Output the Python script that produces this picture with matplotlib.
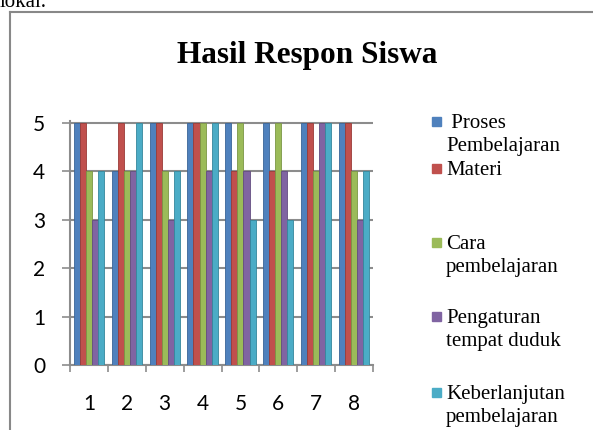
import matplotlib.pyplot as plt
import numpy as np
from matplotlib.lines import Line2D
from matplotlib.patches import Rectangle

# data
groups = ['1', '2', '3', '4', '5', '6', '7', '8']
series_names = [' Proses\nPembelajaran', 'Materi', 'Cara\npembelajaran',
                'Pengaturan\ntempat duduk', 'Keberlanjutan\npembelajaran']
proses = [5, 4, 5, 5, 5, 5, 5, 5]
materi = [5, 5, 5, 5, 4, 4, 5, 5]
cara = [4, 4, 4, 5, 5, 5, 4, 4]
pengaturan = [3, 4, 3, 4, 4, 4, 5, 3]
keberlanjutan = [4, 5, 4, 5, 3, 3, 5, 4]
y_ticks = [0, 1, 2, 3, 4, 5]

colors = ['#4F81BD', '#C0504D', '#9BBB59', '#8064A2', '#4BACC6']
edges = ['#3A6597', '#9A3B38', '#7A9645', '#634D80', '#35879C']
grid_col = '#8C8C8C'

fig = plt.figure(figsize=(5.93, 4.30), dpi=100)
W, H = 593, 430

def fx(px):
    return px / W

def fy(py):
    return 1 - py / H

ax = fig.add_axes([fx(70), fy(365), fx(373) - fx(70), fy(121) - fy(365)])

x = np.arange(1, len(groups) + 1)
width = 0.16
all_series = [proses, materi, cara, pengaturan, keberlanjutan]
for i, vals in enumerate(all_series):
    ax.bar(x + (i - 2) * width, vals, width, color=colors[i],
           edgecolor=edges[i], linewidth=0.6, zorder=3)

ax.set_xlim(0.5, len(groups) + 0.5)
ax.set_ylim(0, 5.04)
ax.set_yticks(y_ticks)
ax.set_yticklabels([str(t) for t in y_ticks], fontsize=15, family='Lato')
ax.set_xticks(np.arange(0.5, len(groups) + 1, 1))
ax.set_xticklabels([])
ax.set_xticks(x, minor=True)
ax.set_xticklabels(groups, minor=True, fontsize=15, family='Lato')
ax.tick_params(axis='x', which='major', length=5, color=grid_col, width=1.2)
ax.tick_params(axis='x', which='minor', length=0, pad=21)
ax.tick_params(axis='y', length=6, color=grid_col, width=1.2, pad=12)
ax.grid(axis='y', color=grid_col, linewidth=1.5, zorder=0)
for s in ['top', 'right']:
    ax.spines[s].set_visible(False)
for s in ['left', 'bottom']:
    ax.spines[s].set_color(grid_col)
    ax.spines[s].set_linewidth(1.5)

# title
fig.text(fx(307), fy(55), 'Hasil Respon Siswa', ha='center', va='center',
         fontsize=22.5, fontweight='bold', family='Liberation Serif')

# legend, placed like the original
leg_y = [122, 169, 243, 317, 393]
for i, name in enumerate(series_names):
    fig.patches.append(Rectangle((fx(432), fy(leg_y[i] + 4)), fx(9), fy(0) - fy(9),
                                 transform=fig.transFigure, color=colors[i]))
    fig.text(fx(446), fy(leg_y[i] - 8), name, ha='left', va='top',
             fontsize=15, family='Liberation Serif', linespacing=1.28)

# surrounding frame and cut-off line of text above
fig.add_artist(Line2D([fx(10), fx(10)], [fy(12), 0], transform=fig.transFigure,
                      color='#888888', linewidth=1.5))
fig.add_artist(Line2D([fx(10), 1], [fy(12), fy(12)], transform=fig.transFigure,
                      color='#888888', linewidth=1.5))
fig.text(fx(0), fy(7), 'lokal.', ha='left', va='baseline', fontsize=15,
         family='Liberation Serif')

plt.savefig('out.png', dpi=100)
